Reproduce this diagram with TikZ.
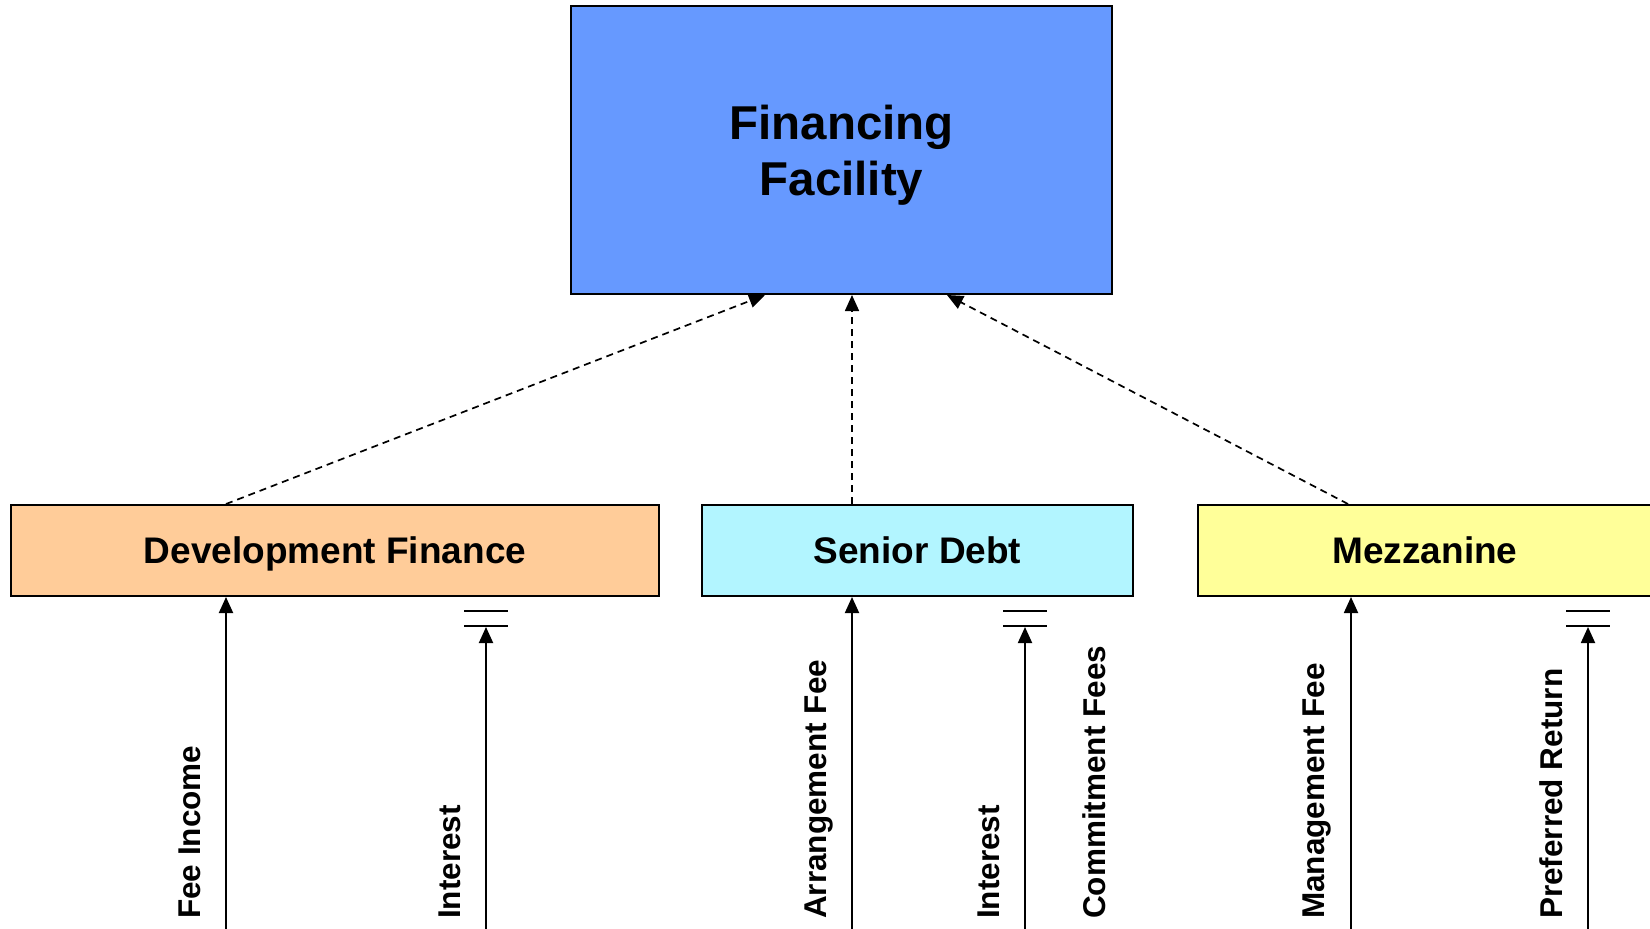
\documentclass[tikz,border=0pt]{standalone}
\usepackage{fontspec}
\setmainfont{Liberation Sans}
\usetikzlibrary{arrows.meta}
\definecolor{ffblue}{HTML}{6699FF}
\definecolor{dfor}{HTML}{FFCC99}
\definecolor{sdcy}{HTML}{B2F5FF}
\definecolor{mzye}{HTML}{FFFF99}
\tikzset{
  boxstyle/.style={draw=black, line width=2pt, inner sep=0pt, text depth=0pt},
  boxlabel/.style={font=\bfseries\fontsize{37}{44}\selectfont, text height=26.5pt},
  tip/.style={-{Triangle[length=16pt,width=14pt]}},
  dasharrow/.style={tip, line width=1.7pt, dash pattern=on 7pt off 5pt},
  flowarrow/.style={tip, line width=1.9pt},
  barline/.style={line width=1.9pt},
  flowlabel/.style={rotate=90, anchor=base west, inner sep=0pt, font=\bfseries\fontsize{31.5}{36}\selectfont}
}
\begin{document}
\begin{tikzpicture}[x=1pt,y=-1pt]
\useasboundingbox (0,0) rectangle (1650,929);
% boxes
\node[boxstyle, fill=ffblue, minimum width=541pt, minimum height=288pt, align=center,
      font=\bfseries\fontsize{47.5}{56}\selectfont] (ff) at (841.5,150) {Financing\\Facility};
\node[boxstyle, boxlabel, fill=dfor, minimum width=648.5pt, minimum height=91pt] (df) at (335,550.5) {Development Finance};
\node[boxstyle, boxlabel, fill=sdcy, minimum width=431pt, minimum height=91pt] (sd) at (917.5,550.5) {Senior Debt};
\node[boxstyle, boxlabel, fill=mzye, minimum width=454pt, minimum height=91pt] (mz) at (1425,550.5) {Mezzanine};
% dashed connectors
\draw[dasharrow] ([xshift=-109pt]df.north) -- ([xshift=-76.5pt]ff.south);
\draw[dasharrow] ([xshift=-65.5pt]sd.north) -- ([xshift=10.5pt]ff.south);
\draw[dasharrow] ([xshift=-77pt]mz.north) -- ([xshift=105.5pt]ff.south);
% free ends at the bottom
\coordinate (b1) at (226,929);
\coordinate (b2) at (486,929);
\coordinate (b3) at (852,929);
\coordinate (b4) at (1025,929);
\coordinate (b5) at (1351,929);
\coordinate (b6) at (1588,929);
% terminators
\coordinate (t2) at (486,627);
\coordinate (t4) at (1025,627);
\coordinate (t6) at (1588,627);
% solid flows
\draw[flowarrow] (b1) -- (b1 |- df.south);
\draw[flowarrow] (b2) -- (t2);
\draw[flowarrow] (b3) -- (b3 |- sd.south);
\draw[flowarrow] (b4) -- (t4);
\draw[flowarrow] (b5) -- (b5 |- mz.south);
\draw[flowarrow] (b6) -- (t6);
% double bars
\foreach \t in {t2,t4,t6}{
  \draw[barline] ([xshift=-22pt,yshift=1pt]\t) -- ([xshift=22pt,yshift=1pt]\t);
  \draw[barline] ([xshift=-22pt,yshift=16pt]\t) -- ([xshift=22pt,yshift=16pt]\t);
}
% labels
\node[flowlabel] (l1) at (200,919) {Fee Income};
\node[flowlabel] (l2) at (460,919) {Interest};
\node[flowlabel] (l3) at (826,919) {Arrangement Fee};
\node[flowlabel] (l4) at (999,919) {Interest};
\node[flowlabel] (l5) at (1105,919) {Commitment Fees};
\node[flowlabel] (l6) at (1324,919) {Management Fee};
\node[flowlabel] (l7) at (1562,919) {Preferred Return};
\end{tikzpicture}
\end{document}
